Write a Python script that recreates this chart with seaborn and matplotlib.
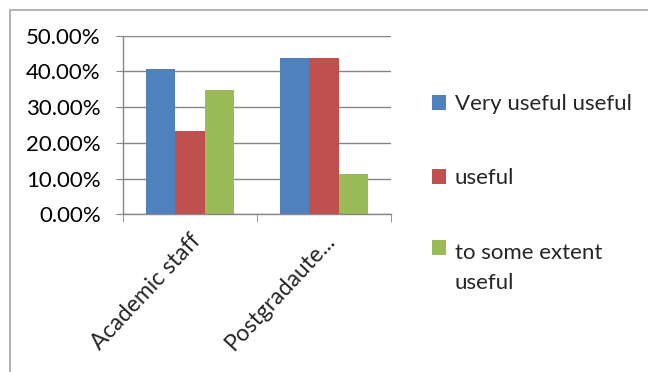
import pandas as pd
import matplotlib.pyplot as plt
import matplotlib.patches as mpatches
from matplotlib.ticker import PercentFormatter
import seaborn as sns

# Datos
groups = ["Academic staff", "Postgradaute..."]
levels = ["Very useful useful", "useful", "to some extent\nuseful"]
very_useful = [0.407, 0.438]
useful = [0.233, 0.438]
some_extent = [0.349, 0.112]
colors = ["#4F81BD", "#C0504D", "#9BBB59"]

df = pd.DataFrame({
    "group": groups * 3,
    "level": [levels[0]] * 2 + [levels[1]] * 2 + [levels[2]] * 2,
    "value": very_useful + useful + some_extent,
})

sns.set_style("white")
plt.rcParams["font.family"] = ["Lato", "DejaVu Sans"]

fig = plt.figure(figsize=(6.48, 3.72), dpi=100)
ax = fig.add_axes([123 / 648, 1 - 214.3 / 372, (391 - 123) / 648, (214.3 - 35.7) / 372])

# marco del grafico
fig.patches.append(mpatches.Rectangle((10 / 648, -0.1), 2, 1 - 10 / 372 + 0.1,
                                      transform=fig.transFigure, fill=False,
                                      edgecolor="#A6A6A6", linewidth=1.2))

sns.barplot(data=df, x="group", y="value", hue="level", palette=colors,
            width=0.66, gap=0, saturation=1, linewidth=0, ax=ax, legend=True)

ax.set_ylim(0, 0.5)
ax.set_xlim(-0.5, 1.5)
ax.set_yticks([0, 0.1, 0.2, 0.3, 0.4, 0.5])
ax.yaxis.set_major_formatter(PercentFormatter(1, decimals=2))
ax.yaxis.grid(True, color="#868686", linewidth=1)
ax.set_axisbelow(True)
ax.set_xlabel("")
ax.set_ylabel("")

for s in ["top", "right"]:
    ax.spines[s].set_visible(False)
for s in ["left", "bottom"]:
    ax.spines[s].set_color("#868686")
    ax.spines[s].set_linewidth(1)

ax.tick_params(axis="y", which="major", left=True, length=5, color="#868686",
               labelsize=16, pad=11, labelcolor="black")
ax.set_xticks([-0.5, 0.5, 1.5], minor=True)
ax.tick_params(axis="x", which="minor", bottom=True, length=6, color="#868686")
ax.tick_params(axis="x", which="major", length=0, labelsize=16.5, pad=11)
for lbl in ax.get_xticklabels():
    lbl.set_rotation(47)
    lbl.set_ha("right")
    lbl.set_rotation_mode("anchor")

handles, labels = ax.get_legend_handles_labels()
leg = ax.legend(handles, labels, loc="upper left", bbox_to_anchor=(432 / 648, 1 - 94 / 372),
                bbox_transform=fig.transFigure, frameon=False, fontsize=16,
                labelspacing=2.45, handlelength=0.65, handleheight=0.65, handletextpad=0.38,
                borderaxespad=0, borderpad=0)
leg.get_texts()[2].set_linespacing(1.65)
# el cuadrado verde va alineado con la primera linea
h = leg.legend_handles[2]
h.set_y(h.get_y() + 15)

fig.savefig("out.png", dpi=100)
